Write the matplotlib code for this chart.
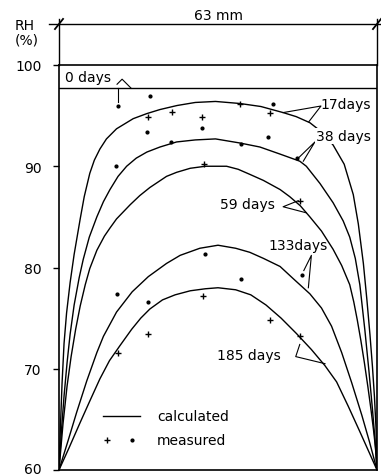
import matplotlib
matplotlib.use("Agg")
import matplotlib.pyplot as plt
import matplotlib.transforms as mtransforms

# === Calculated RH profiles across the 63 mm wall (x in mm, RH in %) ===
rh_initial = 97.7  # 0 days

x_17 = [0, 0.3, 0.6, 1.0, 1.5, 2.2, 3.0, 4.2, 5.0, 6.1, 7.0, 8.1, 9.4, 11.4, 14.7, 17.4, 20.0, 23.4, 27.0, 31.0,
        35.8, 40.0, 44.4, 47.0, 49.7, 52.0, 54.3, 56.5, 58.3, 59.3, 60.3, 61.0, 61.6, 62.1, 62.5, 62.8, 63]
rh_17 = [60, 64.5, 68.5, 72.5, 75.5, 78.5, 81.3, 84.8, 87.0, 89.3, 90.6, 91.7, 92.7, 93.7, 94.7, 95.2, 95.6, 96.0, 96.3, 96.4,
         96.2, 95.9, 95.3, 94.9, 94.3, 93.4, 92.1, 90.2, 87.2, 84.3, 80.4, 76.8, 73.4, 70.2, 67.2, 64.2, 60]

x_38 = [0, 0.5, 1.0, 1.6, 2.2, 3.0, 4.0, 4.8, 6.0, 7.5, 8.8, 10.1, 11.7, 13.4, 15.3, 17.4, 20.0, 23.3, 27.0, 31.0,
        35.8, 39.8, 43.8, 47.7, 49.0, 51.7, 54.3, 56.3, 57.6, 58.7, 59.6, 60.6, 61.4, 62.1, 62.6, 63]
rh_38 = [60, 64.0, 67.3, 70.6, 73.4, 76.3, 79.0, 80.8, 83.0, 85.0, 86.5, 87.7, 89.0, 90.0, 90.8, 91.4, 91.9, 92.4, 92.6, 92.7,
         92.3, 91.9, 91.2, 90.5, 90.0, 88.3, 86.4, 84.6, 83.0, 80.9, 78.3, 73.8, 69.8, 66.0, 63.0, 60]

x_59 = [0, 0.8, 1.6, 2.4, 3.3, 4.2, 5.2, 6.1, 7.5, 9.0, 10.1, 11.4, 14.1, 16.0, 18.0, 21.3, 23.3, 26.0, 29.0, 31.0,
        33.2, 35.5, 37.8, 40.5, 43.8, 45.7, 47.8, 49.7, 52.0, 54.3, 56.0, 57.6, 58.4, 59.1, 59.8, 60.5, 61.2, 61.8, 62.3, 62.7, 63]
rh_59 = [60, 64.6, 68.3, 71.2, 73.9, 76.2, 78.3, 79.9, 81.7, 83.1, 83.9, 84.8, 86.2, 87.1, 87.9, 89.0, 89.4, 89.8, 90.0, 90.0,
         90.0, 89.7, 89.2, 88.6, 87.7, 87.0, 86.1, 85.0, 83.6, 81.8, 80.2, 78.3, 76.6, 74.8, 72.8, 70.6, 68.2, 66.0, 64.0, 62.2, 60]

x_133 = [0, 1.8, 3.5, 5.5, 7.5, 8.8, 11.4, 14.5, 17.7, 21.3, 24.0, 27.9, 31.5,
         35.0, 37.8, 40.5, 43.8, 46.4, 49.7, 52.0, 54.0, 56.0, 58.0, 60.0, 61.5, 63]
rh_133 = [60, 62.9, 65.7, 68.8, 71.6, 73.2, 75.6, 77.6, 79.1, 80.4, 81.2, 81.9, 82.2,
          81.9, 81.5, 80.9, 80.1, 78.9, 77.4, 76.0, 74.2, 71.6, 68.6, 65.4, 62.8, 60]

x_185 = [0, 2.0, 4.2, 6.0, 8.1, 10.0, 12.1, 14.4, 16.2, 18.0, 20.5, 23.0, 26.0, 29.0, 31.5,
         35.0, 38.0, 41.0, 44.0, 47.0, 50.0, 52.7, 55.0, 57.3, 59.5, 61.3, 63]
rh_185 = [60, 62.2, 64.7, 66.7, 69.0, 70.8, 72.3, 73.9, 75.0, 75.9, 76.8, 77.3, 77.7, 77.9, 78.0,
          77.8, 77.3, 76.3, 75.0, 73.5, 71.9, 70.3, 68.7, 66.3, 63.9, 61.9, 60]

# === Measured values ===
plus_x = [17.6, 22.4, 28.4, 35.8, 41.9, 28.7, 47.7, 28.5, 41.8, 47.7, 17.7, 11.7]
plus_rh = [94.9, 95.4, 94.9, 96.1, 95.3, 90.2, 86.6, 77.2, 74.8, 73.2, 73.4, 71.6]
dot_x = [11.7, 18.1, 42.4, 17.4, 22.2, 28.4, 36.0, 41.5, 47.2, 11.2, 11.4, 17.7, 29.0, 36.0, 48.1]
dot_rh = [96.0, 96.9, 96.1, 93.4, 92.4, 93.8, 92.2, 92.9, 90.8, 90.0, 77.4, 76.6, 81.3, 78.9, 79.3]

rh_ticks = [60, 70, 80, 90, 100]
wall_mm = 63

W, H = 381, 477
fig = plt.figure(figsize=(W / 100, H / 100), dpi=100)
ax = fig.add_axes([59 / W, 6 / H, 318 / W, 405 / H])
ax.set_xlim(0, wall_mm)
ax.set_ylim(60, 100)

lw = 1.0
ink = "black"
fs = 10

for s in ax.spines.values():
    s.set_linewidth(1.2)
ax.set_xticks([])
ax.set_yticks(rh_ticks)
ax.set_yticklabels([str(t) for t in rh_ticks], fontsize=fs)
ax.tick_params(axis="y", direction="out", length=4.5, width=1.0, pad=8)
# nudge the bottom label up so it stays inside the figure
lab60 = ax.get_yticklabels()[0]
lab60.set_transform(lab60.get_transform() + mtransforms.ScaledTranslation(0, 2 / 72, fig.dpi_scale_trans))

# curves
ax.axhline(rh_initial, color=ink, lw=lw)
for xs, ys in [(x_17, rh_17), (x_38, rh_38), (x_59, rh_59), (x_133, rh_133), (x_185, rh_185)]:
    ax.plot(xs, ys, color=ink, lw=lw, solid_joinstyle="round")

# measured points
ax.plot(plus_x, plus_rh, "+", color=ink, ms=5, mew=1.0)
ax.plot(dot_x, dot_rh, ".", color=ink, ms=4)

# curve labels and leaders
ax.text(1.2, 98.85, "0 days", fontsize=fs, va="center", ha="left")
ax.plot([11.5, 12.5, 14.3], [98.1, 98.6, 97.7], color=ink, lw=0.8)
ax.plot([11.7, 11.7], [97.7, 96.3], color=ink, lw=0.8)

ax.text(51.8, 96.15, "17days", fontsize=fs, va="center", ha="left")
ax.plot([44.4, 51.9, 49.5], [95.3, 95.95, 94.4], color=ink, lw=0.8)

ax.text(50.9, 93.0, "38 days", fontsize=fs, va="center", ha="left",
        bbox=dict(fc="white", ec="none", pad=0.5))
ax.plot([47.6, 50.7, 48.4], [90.9, 92.4, 90.5], color=ink, lw=0.8)

ax.text(31.9, 86.3, "59 days", fontsize=fs, va="center", ha="left")
ax.plot([47.4, 44.4, 49.0], [86.6, 86.0, 85.4], color=ink, lw=0.8)

ax.text(41.4, 82.2, "133days", fontsize=fs, va="center", ha="left")
ax.plot([48.5, 50.0, 49.4], [79.7, 81.2, 78.0], color=ink, lw=0.8)

ax.text(31.3, 71.4, "185 days", fontsize=fs, va="center", ha="left")
ax.plot([47.7, 46.9, 52.7], [72.4, 71.2, 70.5], color=ink, lw=0.8)

# legend
ax.plot([8.7, 16.0], [65.35, 65.35], color=ink, lw=lw)
ax.text(19.4, 65.35, "calculated", fontsize=fs, va="center", ha="left")
ax.plot([9.6], [63.0], "+", color=ink, ms=5, mew=1.0)
ax.plot([14.5], [63.0], ".", color=ink, ms=4)
ax.text(19.4, 63.0, "measured", fontsize=fs, va="center", ha="left")

# wall thickness dimension above the box
dim_y = 104.05
ax.plot([-2.0, 63.8], [dim_y, dim_y], color=ink, lw=lw, clip_on=False)
for xe in [0, wall_mm]:
    ax.plot([xe, xe], [100, 104.55], color=ink, lw=lw, clip_on=False)
    ax.plot([xe - 0.8, xe + 0.8], [dim_y - 0.5, dim_y + 0.5], color=ink, lw=1.3, clip_on=False)
ax.text(wall_mm / 2, 104.9, "63 mm", fontsize=fs, ha="center", va="center")

fig.text(25 / W, 1 - 26 / H, "RH", fontsize=fs, ha="center", va="center")
fig.text(27 / W, 1 - 41 / H, "(%)", fontsize=fs, ha="center", va="center")

fig.savefig("out.png", dpi=100)
